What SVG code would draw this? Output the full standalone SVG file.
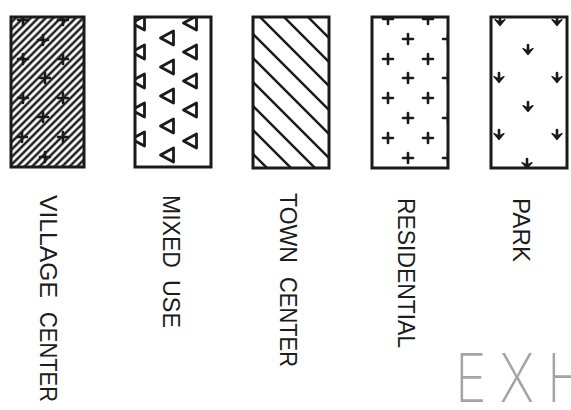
<svg xmlns="http://www.w3.org/2000/svg" width="571" height="410" viewBox="0 0 571 410">
<style>
.box{fill:none;stroke:#1a1a1a;stroke-width:3}
.mk{fill:none;stroke:#1a1a1a;stroke-width:2.6;stroke-linecap:round;stroke-linejoin:round}
.tri{fill:none;stroke:#1a1a1a;stroke-width:2.8;stroke-linejoin:round}
.fill{fill:#1a1a1a;stroke:#1a1a1a;stroke-width:1.2;stroke-linejoin:round}
.hatch{stroke:#1a1a1a;stroke-width:2.5}
.lbl{font-family:"Liberation Sans",Arial,sans-serif;font-size:24px;fill:#1c1c1c}
.exh{font-family:Inter,"Liberation Sans",sans-serif;font-weight:200;font-size:67px;fill:#a4a4a4}
</style>
<defs>
<pattern id="vhatch" patternUnits="userSpaceOnUse" width="5.3" height="10" patternTransform="rotate(45)">
<line x1="2.65" y1="0" x2="2.65" y2="10" class="hatch"/>
</pattern>
<clipPath id="c1"><rect x="11" y="17" width="73" height="150"/></clipPath>
<clipPath id="c2"><rect x="135" y="17" width="76" height="150"/></clipPath>
<clipPath id="c3"><rect x="253" y="17" width="76" height="151"/></clipPath>
<clipPath id="c4"><rect x="372" y="17" width="76" height="151"/></clipPath>
<clipPath id="c5"><rect x="491" y="17" width="76" height="151"/></clipPath>
<path id="plus" d="M-5,0 H5 M0,-5 V5" class="mk"/>
<path id="tri" d="M-6.5,0 L6.5,-7 L6.5,7 Z" class="tri"/>
<g id="tree"><path d="M0,-5 V2" class="mk"/><path d="M-5,-1.5 L0,4.5 L5,-1.5 L0,1 Z" class="fill"/></g>
</defs>
<rect width="571" height="410" fill="#fff"/>

<g id="village-center">
<g clip-path="url(#c1)">
<rect x="11" y="17" width="73" height="150" fill="url(#vhatch)"/>
<use href="#plus" x="23" y="20"/><use href="#plus" x="63" y="20"/>
<use href="#plus" x="43" y="40"/>
<use href="#plus" x="23" y="59"/><use href="#plus" x="63" y="59"/>
<use href="#plus" x="45" y="78"/>
<use href="#plus" x="23" y="98"/><use href="#plus" x="63" y="98"/>
<use href="#plus" x="43" y="117"/>
<use href="#plus" x="22" y="137"/><use href="#plus" x="63" y="137"/>
<use href="#plus" x="45" y="157"/>
</g>
<rect x="11" y="17" width="73" height="150" class="box"/>
<text class="lbl" transform="translate(40,195) rotate(90)" textLength="103" lengthAdjust="spacingAndGlyphs">VILLAGE</text>
<text class="lbl" transform="translate(40,312) rotate(90)" textLength="90" lengthAdjust="spacingAndGlyphs">CENTER</text>
</g>

<g id="mixed-use">
<g clip-path="url(#c2)">
<use href="#tri" x="138" y="23"/><use href="#tri" x="138" y="52"/><use href="#tri" x="138" y="81"/><use href="#tri" x="138" y="110"/><use href="#tri" x="138" y="139"/>
<use href="#tri" x="167" y="38"/><use href="#tri" x="167" y="67"/><use href="#tri" x="167" y="96"/><use href="#tri" x="167" y="126"/><use href="#tri" x="167" y="155"/>
<use href="#tri" x="190" y="23"/><use href="#tri" x="190" y="52"/><use href="#tri" x="190" y="81"/><use href="#tri" x="190" y="110"/><use href="#tri" x="190" y="141"/>
</g>
<rect x="135" y="17" width="76" height="150" class="box"/>
<text class="lbl" transform="translate(163,195) rotate(90)" textLength="73" lengthAdjust="spacingAndGlyphs">MIXED</text>
<text class="lbl" transform="translate(163,280) rotate(90)" textLength="48" lengthAdjust="spacingAndGlyphs">USE</text>
</g>

<g id="town-center">
<g clip-path="url(#c3)" class="hatch">
<line x1="200" y1="-91" x2="400" y2="109"/>
<line x1="200" y1="-67" x2="400" y2="133"/>
<line x1="200" y1="-43" x2="400" y2="157"/>
<line x1="200" y1="-19" x2="400" y2="181"/>
<line x1="200" y1="5" x2="400" y2="205"/>
<line x1="200" y1="29" x2="400" y2="229"/>
<line x1="200" y1="53" x2="400" y2="253"/>
<line x1="200" y1="77" x2="400" y2="277"/>
<line x1="200" y1="101" x2="400" y2="301"/>
</g>
<rect x="253" y="17" width="76" height="151" class="box"/>
<text class="lbl" transform="translate(280,193) rotate(90)" textLength="70" lengthAdjust="spacingAndGlyphs">TOWN</text>
<text class="lbl" transform="translate(280,277) rotate(90)" textLength="90" lengthAdjust="spacingAndGlyphs">CENTER</text>
</g>

<g id="residential">
<g clip-path="url(#c4)">
<use href="#plus" x="388" y="19"/><use href="#plus" x="428" y="19"/>
<use href="#plus" x="408" y="39"/><use href="#plus" x="448" y="39"/>
<use href="#plus" x="388" y="59"/><use href="#plus" x="428" y="59"/>
<use href="#plus" x="408" y="78"/><use href="#plus" x="448" y="78"/>
<use href="#plus" x="388" y="98"/><use href="#plus" x="428" y="98"/>
<use href="#plus" x="408" y="118"/><use href="#plus" x="448" y="118"/>
<use href="#plus" x="388" y="138"/><use href="#plus" x="428" y="138"/>
<use href="#plus" x="408" y="158"/><use href="#plus" x="448" y="158"/>
</g>
<rect x="372" y="17" width="76" height="151" class="box"/>
<text class="lbl" transform="translate(398,198) rotate(90)" textLength="150" lengthAdjust="spacingAndGlyphs">RESIDENTIAL</text>
</g>

<g id="park">
<g clip-path="url(#c5)">
<use href="#tree" x="500" y="21"/><use href="#tree" x="557" y="21"/>
<use href="#tree" x="528" y="50"/>
<use href="#tree" x="499" y="78"/><use href="#tree" x="557" y="78"/>
<use href="#tree" x="528" y="107"/>
<use href="#tree" x="499" y="135"/><use href="#tree" x="557" y="135"/>
<use href="#tree" x="527" y="164"/>
</g>
<rect x="491" y="17" width="76" height="151" class="box"/>
<text class="lbl" transform="translate(513,198) rotate(90)" textLength="64" lengthAdjust="spacingAndGlyphs">PARK</text>
</g>

<text class="exh" transform="translate(455,402) scale(0.8,1)"><tspan x="0">E</tspan><tspan x="56">X</tspan><tspan x="115">H</tspan></text>
</svg>
